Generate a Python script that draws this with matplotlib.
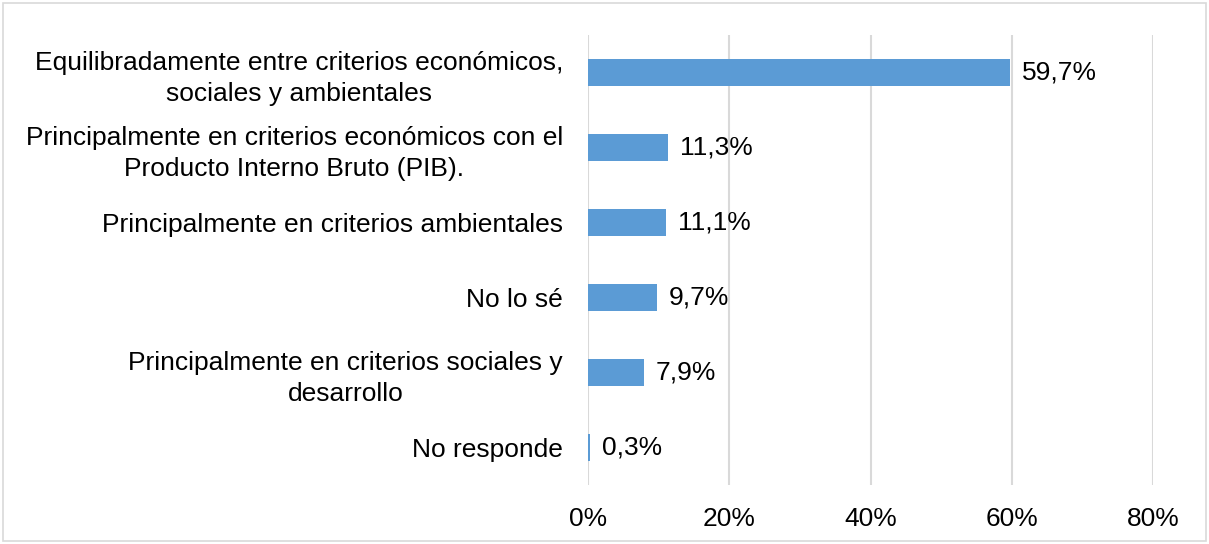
import matplotlib.pyplot as plt
from matplotlib.patches import Rectangle

### data
categories = ["Equilibradamente entre criterios económicos,\nsociales y ambientales",
              "Principalmente en criterios económicos con el\nProducto Interno Bruto (PIB).",
              "Principalmente en criterios ambientales",
              "No lo sé",
              "Principalmente en criterios sociales y\ndesarrollo",
              "No responde"]
values = [59.7, 11.3, 11.1, 9.7, 7.9, 0.3]
labels = ["59,7%", "11,3%", "11,1%", "9,7%", "7,9%", "0,3%"]
ticks = [0, 20, 40, 60, 80]
tick_labels = ["0%", "20%", "40%", "60%", "80%"]

plt.rcParams['font.family'] = ['Liberation Sans', 'DejaVu Sans']
fs = 19

### open figure
fig = plt.figure(figsize=(12.09, 5.44), dpi=100)
ax = fig.add_axes([588/1209, 1-485/544, (1153-588)/1209, 450/544])

ypos = list(range(len(categories)))[::-1]
ax.barh(ypos, values, height=0.36, color='#5B9BD5', zorder=3)
for y, v, t in zip(ypos, values, labels):
    ax.text(v + 1.7, y, t, va='center', ha='left', fontsize=fs)

ax.set_xlim(0, 80)
ax.set_ylim(-0.5, len(categories) - 0.5)
ax.set_xticks(ticks)
ax.set_xticklabels(tick_labels, fontsize=fs)
ax.set_yticks(ypos)
ax.set_yticklabels(categories, fontsize=fs, ha='right', multialignment='center',
                   linespacing=1.35)
ax.tick_params(axis='y', length=0, pad=18)
ax.tick_params(axis='x', length=0, pad=16)
ax.grid(axis='x', color='#d9d9d9', linewidth=1.5, zorder=0)
for s in ax.spines.values():
    s.set_visible(False)

### border
fig.patches.append(Rectangle((3/1209, 3/544), 1203/1209, 538/544, transform=fig.transFigure,
                             fill=False, edgecolor='#d9d9d9', linewidth=1.2))

plt.savefig('out.png', dpi=100)
